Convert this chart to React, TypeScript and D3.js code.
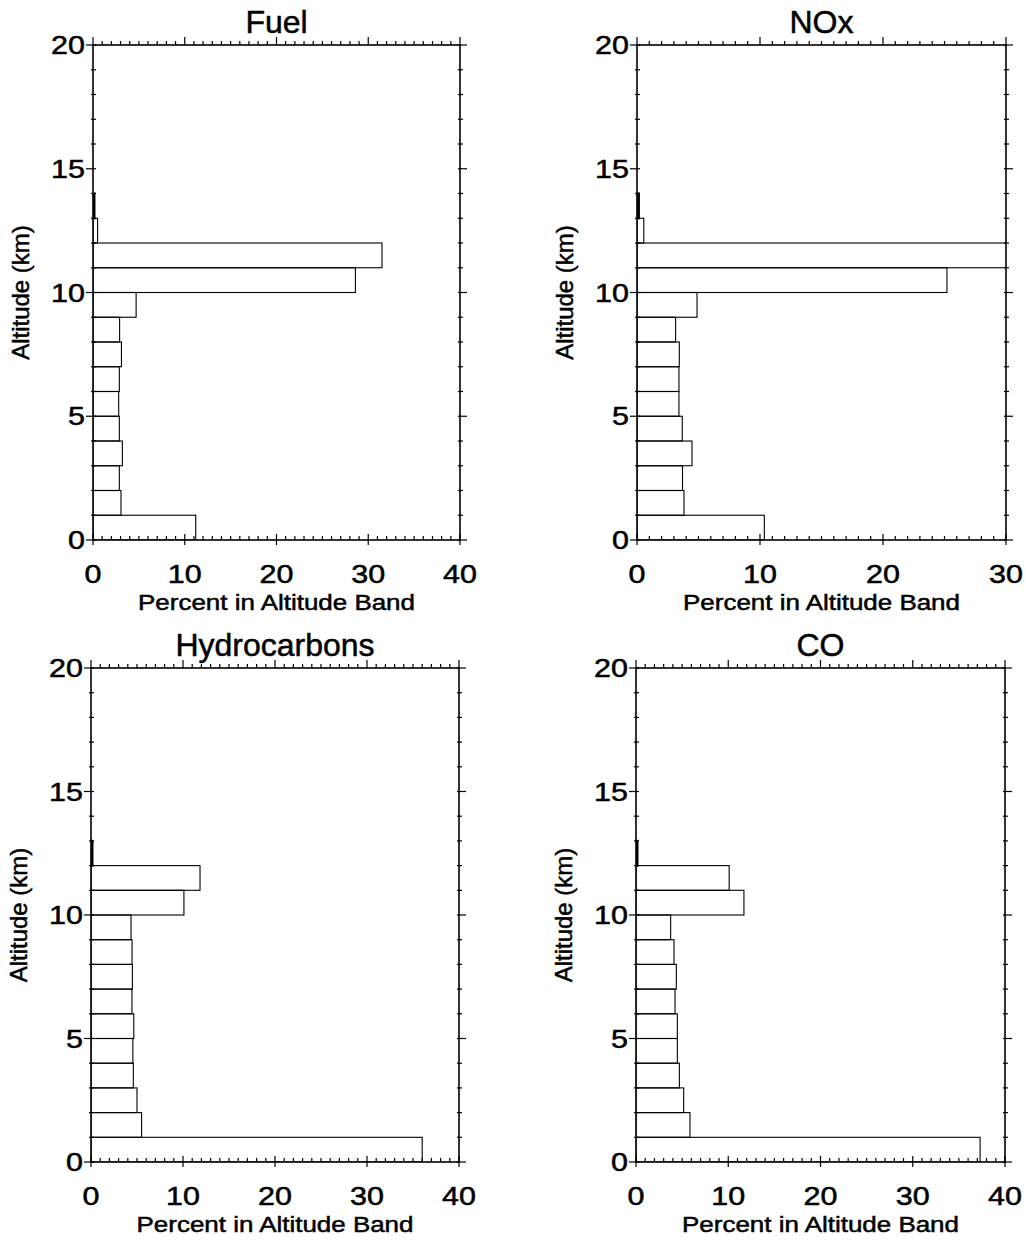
import * as d3 from 'd3';

// altitude bands (bottom edge, km); values are percent of total in each 1 km band
const bands = d3.range(0, 20);
const fuel = [11.2, 3.05, 2.87, 3.2, 2.87, 2.8, 2.87, 3.1, 2.9, 4.7, 28.6, 31.5, 0.5, 0.15, 0, 0, 0, 0, 0, 0];
const nox = [10.35, 3.82, 3.7, 4.47, 3.68, 3.41, 3.41, 3.44, 3.14, 4.88, 25.2, 33, 0.55, 0.15, 0, 0, 0, 0, 0, 0];
const hydrocarbons = [36.0, 5.5, 5.0, 4.6, 4.55, 4.65, 4.45, 4.5, 4.46, 4.35, 10.1, 11.85, 0.15, 0, 0, 0, 0, 0, 0, 0];
const co = [37.3, 5.85, 5.17, 4.7, 4.48, 4.48, 4.23, 4.37, 4.12, 3.76, 11.7, 10.1, 0.15, 0, 0, 0, 0, 0, 0, 0];

const titles = ['Fuel', 'NOx', 'Hydrocarbons', 'CO'];
const xMaxes = [40, 30, 40, 40];
const yTickLabels = [0, 5, 10, 15, 20];
const xLabel = 'Percent in Altitude Band';
const yLabel = 'Altitude (km)';

const FONT = '"Liberation Sans", Arial, Helvetica, sans-serif';

type PanelProps = {
  title: string;
  values: number[];
  xMax: number;
  left: number;
  right: number;
  top: number;
  bottom: number;
  id: string;
};

const Panel = ({ title, values, xMax, left, right, top, bottom, id }: PanelProps) => {
  const x = d3.scaleLinear().domain([0, xMax]).range([left, right]);
  const y = d3.scaleLinear().domain([0, 20]).range([bottom, top]);
  const minorX = d3.range(0, xMax + 1, 1);
  const majorX = d3.range(0, xMax + 1, 10);
  const minorY = d3.range(0, 21, 1);
  const midX = (left + right) / 2;
  const midY = (top + bottom) / 2;

  return (
    <g>
      <defs>
        <clipPath id={id}>
          <rect x={left} y={top} width={right - left} height={bottom - top} />
        </clipPath>
      </defs>

      {/* bars */}
      <g clipPath={`url(#${id})`}>
        {bands.map((b, i) =>
          values[i] > 0 ? (
            <rect
              key={b}
              x={x(0)}
              y={y(b + 1)}
              width={x(values[i]) - x(0)}
              height={y(b) - y(b + 1)}
              fill="none"
              stroke="#000"
              strokeWidth={values[i] < 0.3 ? 2.2 : 1.1}
            />
          ) : null
        )}
      </g>

      {/* frame */}
      <rect x={left} y={top} width={right - left} height={bottom - top} fill="none" stroke="#000" strokeWidth={1.6} />

      {/* x ticks, bottom and top */}
      {minorX.map(v => {
        const major = v % 10 === 0;
        return (
          <g key={'x' + v} stroke="#000" strokeWidth={1.2}>
            <line x1={x(v)} x2={x(v)} y1={bottom + (major ? 5 : 0)} y2={bottom - (major ? 6 : 4)} />
            <line x1={x(v)} x2={x(v)} y1={top} y2={top - (major ? 8 : 4)} />
          </g>
        );
      })}

      {/* y ticks, left and right */}
      {minorY.map(v => {
        const major = v % 5 === 0;
        return (
          <g key={'y' + v} stroke="#000" strokeWidth={1.2}>
            <line x1={left - (major ? 7 : 2)} x2={left + 3} y1={y(v)} y2={y(v)} />
            <line x1={right - 2} x2={right + (major ? 7 : 3)} y1={y(v)} y2={y(v)} />
          </g>
        );
      })}

      {/* tick labels */}
      <g fontFamily={FONT} fontSize={25} fill="#000" stroke="#000" strokeWidth={0.5}>
        {majorX.map(v => (
          <text key={'xl' + v} transform={`translate(${x(v)},${bottom + 43}) scale(1.22,1)`} textAnchor="middle">
            {v}
          </text>
        ))}
        {yTickLabels.map(v => (
          <text key={'yl' + v} transform={`translate(${left - 8},${y(v) + 9}) scale(1.22,1)`} textAnchor="end">
            {v}
          </text>
        ))}
      </g>

      {/* axis titles */}
      <g fontFamily={FONT} fill="#000" stroke="#000" strokeWidth={0.5}>
        <text transform={`translate(${midX},${bottom + 70}) scale(1.18,1)`} textAnchor="middle" fontSize={22}>
          {xLabel}
        </text>
        <text transform={`translate(${left - 64},${midY}) rotate(-90)`} textAnchor="middle" fontSize={24}>
          {yLabel}
        </text>
        <text x={midX} y={top - 12} textAnchor="middle" fontSize={32}>
          {title}
        </text>
      </g>
    </g>
  );
};

export default function App() {
  const series = [fuel, nox, hydrocarbons, co];
  const lefts = [93, 637, 91, 636];
  const rights = [460, 1006, 459, 1005];
  const tops = [45, 45, 668, 668];
  const bottoms = [540, 540, 1162, 1162];

  return (
    <svg
      width={1026}
      height={1240}
      style={{ position: 'absolute', left: 0, top: 0, background: '#fff' }}
    >
      <rect width={1026} height={1240} fill="#fff" />
      {series.map((s, i) => (
        <Panel
          key={titles[i]}
          id={'clip' + i}
          title={titles[i]}
          values={s}
          xMax={xMaxes[i]}
          left={lefts[i]}
          right={rights[i]}
          top={tops[i]}
          bottom={bottoms[i]}
        />
      ))}
    </svg>
  );
}
